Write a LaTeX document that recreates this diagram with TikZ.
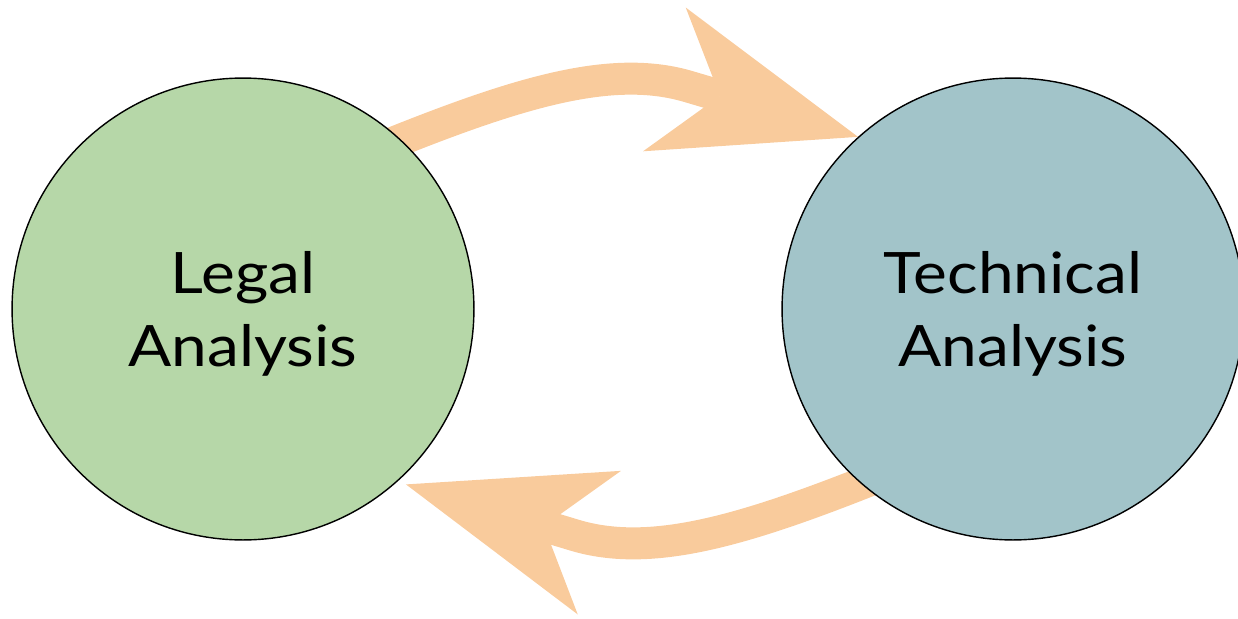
\documentclass[tikz,border=0pt]{standalone}
\usepackage{fontspec}
\setmainfont{Lato}[FakeStretch=1.12]
\usetikzlibrary{arrows.meta, backgrounds, calc}
\definecolor{legalgreen}{RGB}{182, 215, 168}
\definecolor{techblue}{RGB}{162, 196, 201}
\definecolor{floworange}{RGB}{249, 203, 156}
\tikzset{
    analysis/.style={
        circle,
        draw=black,
        line width=0.8pt,
        fill=#1,
        minimum size=9.24cm,
        inner sep=0pt,
        align=center,
        text depth=0pt,
        font=\fontsize{32.5}{42}\selectfont,
    },
    flow/.style={
        draw=floworange,
        line width=0.64cm,
        shorten <=-0.4cm,
        -{Stealth[length=4.04cm, width=3cm, inset=1.16cm, line width=0pt]},
    },
}
\begin{document}
\begin{tikzpicture}[x=0.02cm, y=-0.02cm]
\useasboundingbox (0,0) rectangle (1238,619);

% ===== circles =====
\node[analysis=legalgreen] (legal) at (243, 309) {Legal\\Analysis};
\node[analysis=techblue] (tech) at (1013, 309) {Technical\\Analysis};

% ===== arrows =====
\begin{scope}[on background layer]
\draw[flow] (legal.47) .. controls (520.5, 91.25) and (613.5, 63.6) .. (690, 87) -- (tech.132);
\draw[flow] (tech.229) .. controls (743.5, 530.75) and (650.5, 558.4) .. (574, 535) -- ($(legal.313)+(5, 6)$);
\end{scope}

\end{tikzpicture}
\end{document}
